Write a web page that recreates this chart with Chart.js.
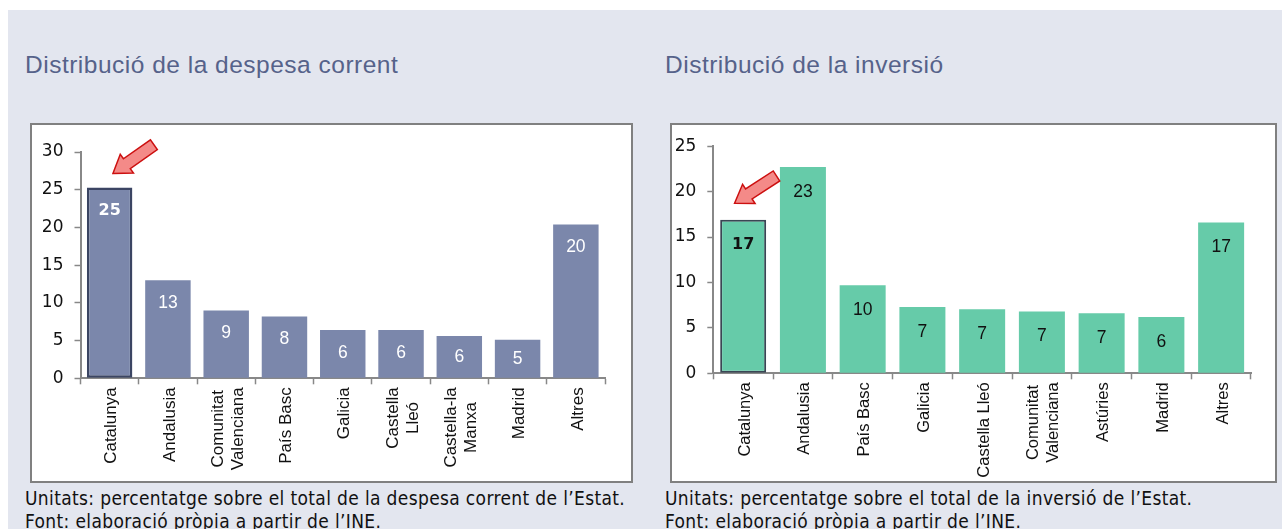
<!DOCTYPE html>
<html>
<head>
<meta charset="utf-8">
<script src="https://cdn.jsdelivr.net/npm/chart.js@4"></script>
<style>
body{margin:0;background:#fff;width:1282px;height:529px;overflow:hidden;position:relative;}
.panel{position:absolute;left:8px;top:10px;width:1274px;height:519px;background:#e3e6ef;}
.title{position:absolute;top:53px;font-family:"Liberation Sans",Arial,sans-serif;font-size:24.5px;line-height:24px;letter-spacing:0.5px;color:#56628a;white-space:nowrap;}
.box{position:absolute;top:123px;height:356px;border:2px solid #808080;background:#fff;}
.box canvas{display:block;}
.note{position:absolute;top:487px;font-family:"DejaVu Sans Condensed","DejaVu Sans",sans-serif;font-stretch:condensed;font-size:19px;line-height:23px;letter-spacing:0.35px;color:#111;white-space:nowrap;}
</style>
</head>
<body>
<div class="panel"></div>

<div class="title" style="left:25px">Distribució de la despesa corrent</div>
<div class="title" style="left:665px">Distribució de la inversió</div>

<div class="box" style="left:30px;width:599px"><canvas id="despesaChart" width="599" height="356"></canvas></div>
<div class="box" style="left:670px;width:603px"><canvas id="inversioChart" width="603" height="356"></canvas></div>

<div class="note" style="left:25px">Unitats: percentatge sobre el total de la despesa corrent de l’Estat.<br>Font: elaboració pròpia a partir de l’INE.</div>
<div class="note" style="left:665px">Unitats: percentatge sobre el total de la inversió de l’Estat.<br>Font: elaboració pròpia a partir de l’INE.</div>

<script>

/* DADES */

const despesaCats = [
    'Catalunya','Andalusia',['Comunitat','Valenciana'],'País Basc',
    'Galicia',['Castella','Lleó'],['Castella-la','Manxa'],'Madrid','Altres'
];
const despesaVals = [25.3,13.0,9.0,8.2,6.4,6.4,5.6,5.1,20.4];

const inversioCats = [
    'Catalunya','Andalusia','País Basc','Galicia','Castella Lleó',
    ['Comunitat','Valenciana'],'Astúries','Madrid','Altres'
];
const inversioVals = [16.9,22.7,9.7,7.3,7.05,6.8,6.6,6.2,16.6];

const despesaTicks = [0,5,10,15,20,25,30];
const inversioTicks = [0,5,10,15,20,25];

/* PLUGINS */

// etiquetes de categoria verticals, línies centrades
const catLabels = {
    id:'catLabels',
    afterDraw(chart,args,opts){
        const ctx = chart.ctx;
        const x = chart.scales.x;
        ctx.save();
        ctx.font = opts.font;
        ctx.fillStyle = '#111';
        ctx.textAlign = 'center';
        ctx.textBaseline = 'middle';
        chart.data.labels.forEach((lab,i)=>{
            const lines = Array.isArray(lab) ? lab : [lab];
            const w = Math.max(...lines.map(l=>ctx.measureText(l).width));
            const px = x.getPixelForTick(i) + 2;
            ctx.save();
            ctx.translate(px, x.top + opts.gap + w/2);
            ctx.rotate(-Math.PI/2);
            lines.forEach((l,j)=>{
                ctx.fillText(l, 0, (j-(lines.length-1)/2)*opts.lineHeight);
            });
            ctx.restore();
        });
        ctx.restore();
    }
};

// valors dins les barres + fletxa sobre Catalunya
const barValues = {
    id:'barValues',
    afterDatasetsDraw(chart,args,opts){
        const ctx = chart.ctx;
        const meta = chart.getDatasetMeta(0);
        const vals = chart.data.datasets[0].data;
        ctx.save();
        ctx.textAlign = 'center';
        ctx.textBaseline = 'middle';
        ctx.fillStyle = opts.color;
        meta.data.forEach((bar,i)=>{
            ctx.font = i===0 ? opts.boldFont : opts.font;
            const y = Math.min((bar.y+bar.base)/2, bar.y+opts.offset);
            ctx.fillText(Math.round(vals[i]), bar.x, y);
        });

        /* FLETXA */
        const a = opts.arrow;
        const b = meta.data[0];
        const tx = b.x + a.dx, ty = b.y + a.dy;
        const n = Math.hypot(a.ux,a.uy);
        const ux = a.ux/n, uy = a.uy/n;
        const vx = -uy, vy = ux;
        const hl = 17, hw = 11.5, sw = 6, L = a.len;
        const pts = [
            [0,0],[hl,hw],[hl,sw],[L,sw],[L,-sw],[hl,-sw],[hl,-hw]
        ];
        ctx.beginPath();
        pts.forEach((p,k)=>{
            const px = tx + ux*p[0] + vx*p[1];
            const py = ty + uy*p[0] + vy*p[1];
            if(k===0) ctx.moveTo(px,py); else ctx.lineTo(px,py);
        });
        ctx.closePath();
        ctx.fillStyle = '#f48a88';
        ctx.fill();
        ctx.strokeStyle = '#cc1010';
        ctx.lineWidth = 1.5;
        ctx.stroke();
        ctx.restore();
    }
};

/* OPCIONS */

function makeOptions(cfg){
    return {
        responsive:false,
        animation:false,
        events:[],
        layout:{padding:{top:cfg.top,right:cfg.right,left:0,bottom:0}},
        plugins:{
            legend:{display:false},
            tooltip:{enabled:false},
            catLabels:{font:cfg.catFont,gap:9,lineHeight:20},
            barValues:{
                color:cfg.valColor,
                font:'17.5px "Liberation Sans", Arial, sans-serif',
                boldFont:'bold 16px "DejaVu Sans", sans-serif',
                offset:cfg.offset,
                arrow:cfg.arrow
            }
        },
        scales:{
            x:{
                grid:{
                    display:true,drawOnChartArea:false,drawTicks:true,
                    tickLength:6,tickColor:'#888',tickWidth:1.5,offset:true
                },
                border:{display:true,color:'#888',width:2},
                ticks:{display:false},
                afterFit(s){ s.height = cfg.xHeight; }
            },
            y:{
                min:0,max:cfg.max,
                afterBuildTicks(s){ s.ticks = cfg.ticks.map(v=>({value:v})); },
                grid:{
                    display:true,drawOnChartArea:false,drawTicks:true,
                    tickLength:6,tickColor:'#888',tickWidth:1.5
                },
                border:{display:true,color:'#888',width:2},
                ticks:{
                    padding:11,color:'#111',
                    font:{family:'"DejaVu Sans", sans-serif',size:17}
                },
                afterFit(s){ s.width = cfg.yWidth; }
            }
        }
    };
}

/* GRÀFIC DESPESA CORRENT */

const despesaChart = new Chart(
document.getElementById('despesaChart'),{

    type:'bar',

    data:{
        labels:despesaCats,
        datasets:[{
            data:despesaVals,
            backgroundColor:'#7b87ab',
            borderColor:despesaVals.map((v,i)=>i===0?'#3b4563':'rgba(0,0,0,0)'),
            borderWidth:despesaVals.map((v,i)=>i===0?2.5:0),
            borderSkipped:false,
            categoryPercentage:1,
            barPercentage:0.78
        }]
    },

    options:makeOptions({
        top:27,right:26,xHeight:102.7,yWidth:48.5,max:30,ticks:despesaTicks,
        catFont:'17px "Liberation Sans", Arial, sans-serif',
        valColor:'#ffffff',offset:23,
        arrow:{dx:3.3,dy:-14,ux:37.5,uy:-26.3,len:50}
    }),

    plugins:[catLabels,barValues]

});

/* GRÀFIC INVERSIÓ */

const inversioChart = new Chart(
document.getElementById('inversioChart'),{

    type:'bar',

    data:{
        labels:inversioCats,
        datasets:[{
            data:inversioVals,
            backgroundColor:'#66cba9',
            borderColor:inversioVals.map((v,i)=>i===0?'#3a4654':'rgba(0,0,0,0)'),
            borderWidth:inversioVals.map((v,i)=>i===0?2:0),
            borderSkipped:false,
            categoryPercentage:1,
            barPercentage:0.77
        }]
    },

    options:makeOptions({
        top:18.3,right:24,xHeight:107.7,yWidth:41.3,max:25,ticks:inversioTicks,
        catFont:'16.5px "Liberation Sans", Arial, sans-serif',
        valColor:'#111111',offset:25,
        arrow:{dx:-8.6,dy:-16.6,ux:39.6,uy:-25.7,len:50}
    }),

    plugins:[catLabels,barValues]

});

</script>
</body>
</html>
